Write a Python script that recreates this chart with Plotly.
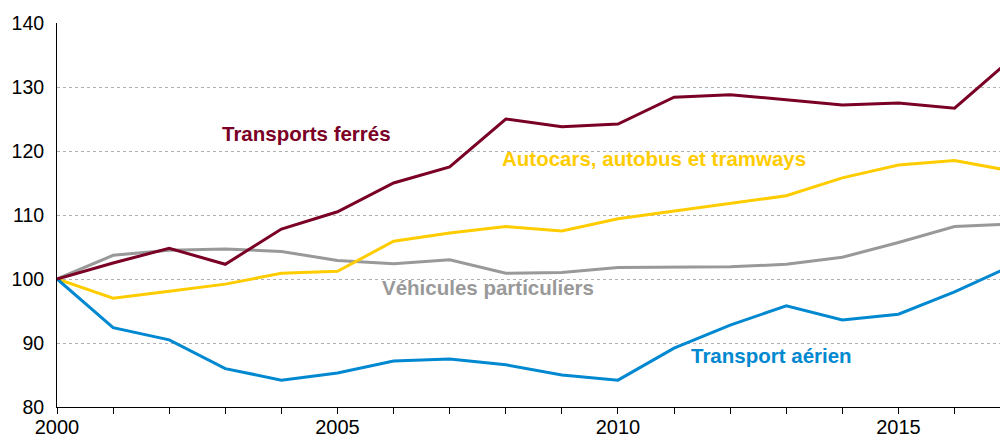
import plotly.graph_objects as go

years = list(range(2000, 2018))
ferres = [100, 102.5, 104.8, 102.3, 107.8, 110.5, 115.0, 117.5, 125.0, 123.8, 124.2,
          128.4, 128.8, 128.0, 127.2, 127.5, 126.7, 134.3]
autocars = [100, 97.0, 98.1, 99.2, 100.9, 101.2, 105.9, 107.2, 108.2, 107.5, 109.4,
            110.6, 111.7, 113.0, 115.8, 117.8, 118.5, 116.9]
vehicules = [100, 103.7, 104.5, 104.7, 104.3, 102.9, 102.4, 103.0, 100.9, 101.0, 101.8,
             101.8, 101.9, 102.3, 103.4, 105.7, 108.2, 108.6]
aerien = [100, 92.4, 90.5, 86.0, 84.2, 85.3, 87.2, 87.5, 86.6, 85.0, 84.2,
          89.2, 92.8, 95.8, 93.6, 94.5, 98.0, 102.0]

series = [
    ("Véhicules particuliers", vehicules, "#999999", 2007.68, 98.6),
    ("Autocars, autobus et tramways", autocars, "#FFCC00", 2010.64, 118.9),
    ("Transport aérien", aerien, "#0088D0", 2012.74, 88.1),
    ("Transports ferrés", ferres, "#7A0026", 2004.44, 122.8),
]

fig = go.Figure()
for name, vals, color, lx, ly in series:
    fig.add_trace(go.Scatter(x=years, y=vals, mode="lines", name=name,
                             line=dict(color=color, width=3), cliponaxis=True))
    fig.add_annotation(x=lx, y=ly, text="<b>%s</b>" % name, showarrow=False,
                       font=dict(family="Liberation Sans, Arial", size=20.5, color=color),
                       xanchor="center", yanchor="middle")

fig.update_layout(
    width=1000, height=439,
    margin=dict(l=57, r=0, t=23, b=32, autoexpand=False),
    paper_bgcolor="white", plot_bgcolor="white",
    showlegend=False,
    font=dict(family="Liberation Sans, Arial", size=20, color="black"),
)
fig.update_xaxes(
    range=[2000, 2016.81], tickmode="linear", tick0=2000, dtick=5,
    showgrid=False, zeroline=False, automargin=False,
    showline=True, linecolor="black", linewidth=1,
    ticks="outside", ticklen=6, tickcolor="black", tickwidth=1,
    minor=dict(dtick=1, tick0=2000, ticks="outside", ticklen=6, tickcolor="black", showgrid=False),
    tickfont=dict(size=20), ticklabelstandoff=-4,
)
fig.update_yaxes(
    range=[80, 140], tickmode="linear", tick0=80, dtick=10,
    showgrid=True, gridcolor="#b0b0b0", griddash="dot", gridwidth=1,
    zeroline=False, showline=True, linecolor="black", linewidth=1,
    automargin=False, ticks="", tickfont=dict(size=19.5), ticklabelstandoff=8,
)
fig.write_html("out.html", config={"displayModeBar": False},
               post_script="document.body.style.margin='0px';")
